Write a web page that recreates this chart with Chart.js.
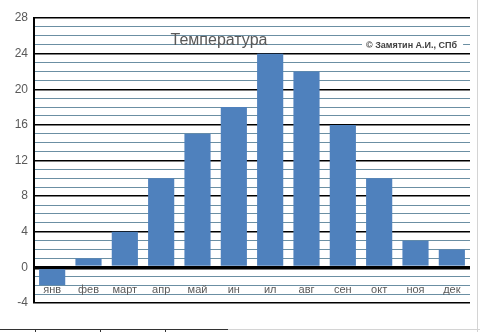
<!DOCTYPE html>
<html>
<head>
<meta charset="utf-8">
<script src="https://cdn.jsdelivr.net/npm/chart.js@4"></script>
<style>
  html, body { margin: 0; padding: 0; background: #fff; }
  #wrap { position: relative; width: 480px; height: 332px; overflow: hidden; }
  #chart { position: absolute; left: 0; top: 0; }
  .cell { position: absolute; background: #d4d4d4; }
</style>
</head>
<body>
<div id="wrap">
  <canvas id="chart" width="480" height="332"></canvas>
  <!-- sheet cell borders around the embedded chart -->
  <div class="cell" style="left:477px;top:0;width:1px;height:332px;"></div>
  <div class="cell" style="left:0;top:329px;width:228px;height:1px;background:#333;"></div>
  <div class="cell" style="left:228px;top:329px;width:252px;height:1px;"></div>
  <div class="cell" style="left:35px;top:329px;width:1px;height:3px;background:#333;"></div>
  <div class="cell" style="left:100px;top:329px;width:1px;height:3px;background:#333;"></div>
  <div class="cell" style="left:165px;top:329px;width:1px;height:3px;background:#333;"></div>
</div>
<script>
const months = ['янв', 'фев', 'март', 'апр', 'май', 'ин', 'ил', 'авг', 'сен', 'окт', 'ноя', 'дек'];
const temperature = [-2, 1, 4, 10, 15, 18, 24, 22, 16, 10, 3, 2];
const yMin = -4;
const yMax = 28;
const chartTitle = 'Температура';
const credit = '© Замятин А.И., СПб';

// category labels sit inside the plot, just under the zero line;
// title and credit box are drawn on top of the plot
const overlay = {
  id: 'overlay',
  afterDraw(chart) {
    const ctx = chart.ctx;
    const x = chart.scales.x;
    ctx.save();
    ctx.fillStyle = '#595959';
    ctx.font = '11px "Liberation Sans", Arial, sans-serif';
    ctx.textAlign = 'center';
    ctx.textBaseline = 'middle';
    x.getLabels().forEach((m, i) => {
      ctx.fillText(m, x.getPixelForValue(i), chart.chartArea.bottom - 13);
    });

    ctx.font = '16px "Liberation Sans", Arial, sans-serif';
    ctx.textBaseline = 'alphabetic';
    ctx.fillText(chartTitle, 219, 45);

    ctx.font = 'bold 9px "Liberation Sans", Arial, sans-serif';
    const w = ctx.measureText(credit).width;
    ctx.fillStyle = '#fff';
    ctx.fillRect(362, 39, w + 10, 14);
    ctx.fillStyle = '#404040';
    ctx.textAlign = 'left';
    ctx.textBaseline = 'middle';
    ctx.fillText(credit, 366, 46);
    ctx.restore();
  }
};

new Chart(document.getElementById('chart'), {
  type: 'bar',
  data: {
    labels: months,
    datasets: [{
      label: chartTitle,
      data: temperature,
      backgroundColor: '#4f81bd',
      categoryPercentage: 0.72,
      barPercentage: 1
    }]
  },
  options: {
    responsive: false,
    animation: false,
    layout: { padding: { left: 0, top: 18, right: 10, bottom: 29 } },
    plugins: { legend: { display: false }, title: { display: false }, tooltip: { enabled: false } },
    scales: {
      x: {
        grid: { display: false, drawTicks: false },
        border: { display: false },
        ticks: { display: false },
        afterFit: s => { s.height = 0; }
      },
      y: {
        min: yMin,
        max: yMax,
        border: { color: '#000', width: 2 },
        grid: {
          drawTicks: false,
          color: c => (c.tick.value % 4 === 0 ? '#000' : '#6b8fa3'),
          lineWidth: c => (c.tick.value === 0 ? 3.5 : (c.tick.value % 4 === 0 ? 1.5 : 1))
        },
        ticks: {
          stepSize: 1,
          autoSkip: false,
          padding: 6,
          color: '#595959',
          font: { family: '"Liberation Sans", Arial, sans-serif', size: 12 },
          callback: v => (v % 4 === 0 ? v : '')
        },
        afterFit: s => { s.width = 34; }
      }
    }
  },
  plugins: [overlay]
});
</script>
</body>
</html>
